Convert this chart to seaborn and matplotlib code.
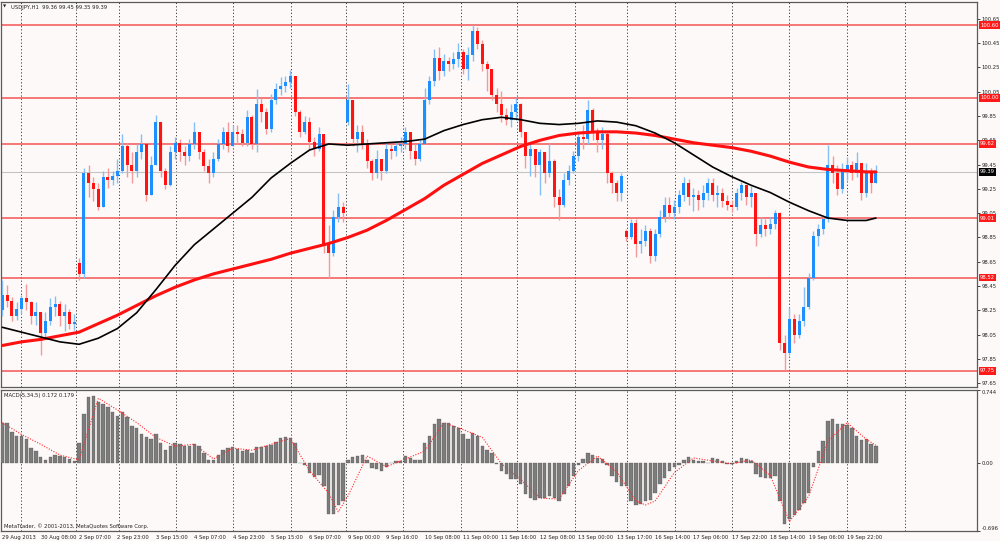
import matplotlib
matplotlib.use("Agg")
import matplotlib.pyplot as plt
import matplotlib.transforms as mtransforms
import seaborn as sns
import numpy as np

# 2-hour candles (open = previous close unless gapped)
closes = [
    98.38, 98.33, 98.20, 98.26, 98.35, 98.32, 98.20, 98.24, 98.06, 98.16, 98.28, 98.30, 98.20, 98.24, 98.14, 98.15,
    98.55, 99.38, 99.30, 99.25, 99.10, 99.35, 99.32, 99.36, 99.40, 99.60, 99.45, 99.40, 99.55, 99.62, 99.20, 99.45,
    99.80, 99.40, 99.28, 99.55, 99.63, 99.55, 99.52, 99.62, 99.72, 99.55, 99.44, 99.38, 99.50, 99.62, 99.72, 99.60,
    99.72, 99.70, 99.63, 99.84, 99.62, 99.95, 99.88, 99.74, 99.98, 100.07, 100.10, 100.13, 100.18, 99.88, 99.72, 99.80,
    99.64, 99.58, 99.70, 98.80, 98.72, 99.02, 99.10, 99.05, 99.98, 99.66, 99.72, 99.62, 99.48, 99.38, 99.50, 99.40,
    99.58, 99.56, 99.60, 99.62, 99.72, 99.56, 99.50, 99.62, 99.98, 100.14, 100.33, 100.22, 100.30, 100.28, 100.32, 100.38,
    100.24, 100.35, 100.55, 100.44, 100.28, 100.24, 100.02, 99.95, 99.86, 99.82, 99.88, 99.95, 99.72, 99.52, 99.58, 99.45,
    99.55, 99.38, 99.48, 99.18, 99.12, 99.32, 99.40, 99.52, 99.68, 99.66, 99.90, 99.72, 99.65, 99.70, 99.38, 99.30,
    99.22, 99.36, 98.85, 98.97, 98.80, 98.82, 98.90, 98.70, 98.88, 99.02, 99.12, 99.05, 99.10, 99.20, 99.30, 99.18,
    99.20, 99.16, 99.22, 99.30, 99.20, 99.22, 99.15, 99.12, 99.10, 99.22, 99.28, 99.18, 99.22, 98.88, 98.95, 98.92,
    98.96, 99.05, 97.98, 97.90, 98.18, 98.05, 98.16, 98.28, 98.52, 98.86, 98.92, 99.00, 99.45, 99.38, 99.25, 99.40,
    99.45, 99.38, 99.46, 99.22, 99.40, 99.30, 99.39,
]
highs = [
    98.50, 98.46, 98.36, 98.32, 98.38, 98.47, 98.33, 98.32, 98.22, 98.24, 98.35, 98.37, 98.33, 98.30, 98.26, 98.22,
    98.68, 99.42, 99.45, 99.35, 99.30, 99.40, 99.42, 99.40, 99.50, 99.70, 99.63, 99.55, 99.62, 99.70, 99.62, 99.52,
    99.86, 99.80, 99.42, 99.60, 99.68, 99.66, 99.60, 99.66, 99.80, 99.72, 99.58, 99.50, 99.55, 99.66, 99.76, 99.80,
    99.78, 99.78, 99.74, 99.90, 99.86, 100.07, 100.00, 99.92, 100.03, 100.12, 100.17, 100.18, 100.23, 100.18, 99.90, 99.85,
    99.84, 99.68, 99.76, 99.70, 98.95, 99.08, 99.22, 99.14, 100.11, 99.90, 99.78, 99.78, 99.66, 99.50, 99.57, 99.50,
    99.63, 99.62, 99.64, 99.68, 99.76, 99.72, 99.62, 99.65, 100.08, 100.18, 100.40, 100.42, 100.36, 100.34, 100.38, 100.45,
    100.40, 100.42, 100.60, 100.58, 100.48, 100.30, 100.20, 100.08, 100.06, 99.92, 99.95, 100.00, 99.96, 99.72, 99.62, 99.55,
    99.58, 99.54, 99.63, 99.50, 99.25, 99.38, 99.45, 99.56, 99.72, 99.78, 99.98, 99.92, 99.75, 99.76, 99.72, 99.40,
    99.32, 99.38, 98.92, 99.00, 99.00, 98.92, 98.95, 98.93, 98.92, 99.08, 99.18, 99.18, 99.16, 99.24, 99.35, 99.33,
    99.26, 99.24, 99.28, 99.34, 99.34, 99.28, 99.26, 99.20, 99.16, 99.26, 99.31, 99.28, 99.27, 99.20, 99.02, 99.00,
    99.02, 99.08, 99.06, 98.05, 98.28, 98.22, 98.22, 98.44, 98.56, 98.90, 98.96, 99.02, 99.61, 99.52, 99.45, 99.46,
    99.51, 99.48, 99.55, 99.46, 99.46, 99.42, 99.45,
]
lows = [
    98.20, 98.28, 98.16, 98.17, 98.22, 98.25, 98.14, 98.13, 97.88, 98.02, 98.13, 98.20, 98.12, 98.08, 98.10, 98.09,
    98.50, 98.52, 99.18, 99.15, 99.08, 99.10, 99.26, 99.28, 99.30, 99.38, 99.35, 99.30, 99.35, 99.50, 99.15, 99.22,
    99.45, 99.35, 99.25, 99.27, 99.50, 99.48, 99.45, 99.48, 99.58, 99.50, 99.40, 99.30, 99.35, 99.48, 99.58, 99.55,
    99.62, 99.62, 99.60, 99.60, 99.58, 99.55, 99.80, 99.70, 99.72, 99.95, 100.02, 100.05, 100.08, 99.85, 99.68, 99.70,
    99.58, 99.52, 99.56, 98.72, 98.52, 98.70, 98.98, 98.98, 99.78, 99.60, 99.55, 99.58, 99.42, 99.32, 99.34, 99.32,
    99.38, 99.50, 99.52, 99.55, 99.58, 99.50, 99.45, 99.48, 99.62, 99.95, 100.10, 100.15, 100.18, 100.22, 100.24, 100.25,
    100.20, 100.15, 100.30, 100.40, 100.22, 100.06, 99.98, 99.88, 99.80, 99.78, 99.76, 99.82, 99.68, 99.42, 99.36, 99.35,
    99.20, 99.30, 99.35, 99.10, 98.99, 99.10, 99.28, 99.38, 99.48, 99.58, 99.62, 99.65, 99.55, 99.58, 99.30, 99.22,
    99.15, 99.15, 98.82, 98.84, 98.69, 98.72, 98.78, 98.64, 98.66, 98.85, 98.98, 99.00, 99.00, 99.05, 99.15, 99.12,
    99.07, 99.08, 99.10, 99.16, 99.15, 99.10, 99.10, 99.08, 99.06, 99.08, 99.16, 99.12, 99.10, 98.78, 98.85, 98.86,
    98.88, 98.92, 97.92, 97.76, 97.88, 97.98, 98.02, 98.12, 98.26, 98.50, 98.78, 98.88, 98.98, 99.30, 99.20, 99.22,
    99.32, 99.32, 99.35, 99.16, 99.18, 99.22, 99.30,
]
gap_opens = {0: 98.25, 16: 98.64, 72: 99.80, 130: 98.90}

# moving averages, sampled every 4 bars
ma_idx = list(range(0, 181, 4)) + [182]
ma_black = [98.11, 98.07, 98.03, 97.99, 97.97, 98.02, 98.10, 98.23, 98.42, 98.62, 98.79, 98.92,
            99.05, 99.18, 99.34, 99.46, 99.57, 99.62, 99.61, 99.62, 99.63, 99.64, 99.66, 99.73,
            99.78, 99.82, 99.84, 99.82, 99.79, 99.78, 99.79, 99.81, 99.80, 99.77, 99.71, 99.63,
            99.53, 99.43, 99.35, 99.28, 99.22, 99.14, 99.07, 99.01, 98.99, 98.99, 99.01]
ma_red = [97.96, 97.99, 98.01, 98.04, 98.07, 98.14, 98.21, 98.29, 98.37, 98.44, 98.50, 98.55,
          98.59, 98.63, 98.67, 98.72, 98.76, 98.80, 98.85, 98.91, 98.99, 99.08, 99.17, 99.28,
          99.37, 99.46, 99.53, 99.60, 99.65, 99.69, 99.71, 99.72, 99.72, 99.71, 99.69, 99.66,
          99.63, 99.61, 99.59, 99.56, 99.52, 99.47, 99.43, 99.41, 99.40, 99.39, 99.39]

macd_hist = [
    0.41, 0.41, 0.31, 0.27, 0.27, 0.24, 0.15, 0.12, 0.06, 0.03, 0.06, 0.08, 0.07, 0.06, 0.04, 0.02,
    0.20, 0.50, 0.67, 0.68, 0.62, 0.60, 0.57, 0.52, 0.48, 0.52, 0.47, 0.38, 0.36, 0.29, 0.26, 0.24,
    0.29, 0.20, 0.13, 0.17, 0.20, 0.19, 0.17, 0.17, 0.19, 0.17, 0.10, 0.03, 0.03, 0.08, 0.13, 0.15,
    0.16, 0.14, 0.12, 0.13, 0.10, 0.16, 0.16, 0.17, 0.18, 0.21, 0.25, 0.26, 0.25, 0.20, 0.00, -0.02,
    -0.10, -0.14, -0.12, -0.24, -0.52, -0.52, -0.43, -0.39, 0.03, 0.06, 0.07, 0.08, 0.03, -0.05, -0.06, -0.08,
    -0.04, 0.00, 0.02, 0.02, 0.07, 0.05, 0.03, 0.03, 0.20, 0.27, 0.40, 0.45, 0.41, 0.41, 0.38, 0.36,
    0.29, 0.24, 0.30, 0.27, 0.17, 0.13, 0.10, -0.01, -0.08, -0.11, -0.17, -0.16, -0.22, -0.32, -0.36, -0.38,
    -0.36, -0.36, -0.34, -0.36, -0.39, -0.32, -0.24, -0.13, -0.02, 0.04, 0.10, 0.08, 0.05, 0.04, -0.02, -0.13,
    -0.20, -0.24, -0.24, -0.39, -0.43, -0.42, -0.39, -0.38, -0.31, -0.22, -0.15, -0.08, -0.04, -0.02, 0.03, 0.06,
    0.03, 0.02, 0.02, 0.00, 0.05, 0.04, 0.02, -0.01, -0.01, 0.02, 0.05, 0.04, 0.02, -0.11, -0.14, -0.15,
    -0.15, -0.13, -0.39, -0.62, -0.57, -0.53, -0.48, -0.41, -0.31, -0.04, 0.12, 0.22, 0.43, 0.45, 0.40, 0.40,
    0.39, 0.36, 0.27, 0.23, 0.24, 0.19, 0.172,
]
sig_idx = [0, 4, 8, 12, 16, 20, 24, 28, 32, 36, 40, 44, 48, 52, 56, 60, 64, 68, 70, 72, 76, 80, 84,
           88, 92, 96, 100, 104, 108, 112, 116, 120, 124, 128, 132, 134, 136, 140, 144, 148, 152,
           156, 160, 164, 168, 172, 176, 180, 182]
macd_signal = [0.41, 0.29, 0.19, 0.08, 0.03, 0.66, 0.54, 0.41, 0.26, 0.17, 0.19, 0.04, 0.15, 0.13,
               0.19, 0.25, -0.08, -0.31, -0.50, -0.34, 0.07, -0.04, 0.04, 0.12, 0.41, 0.34, 0.26,
               -0.01, -0.17, -0.36, -0.37, -0.08, 0.07, -0.09, -0.39, -0.43, -0.39, -0.10, 0.05,
               0.02, -0.01, 0.03, -0.13, -0.60, -0.34, 0.22, 0.41, 0.24, 0.179]

levels = [100.60, 100.00, 99.62, 99.01, 98.52, 97.75]
last_price = 99.39
price_ticks = [97.65, 97.85, 98.05, 98.25, 98.45, 98.65, 98.85, 99.05, 99.25, 99.45,
               99.65, 99.85, 100.05, 100.25, 100.45, 100.65]

date_labels = ["29 Aug 2013", "30 Aug 08:00", "2 Sep 07:00", "2 Sep 23:00", "3 Sep 15:00",
               "4 Sep 07:00", "4 Sep 23:00", "5 Sep 15:00", "6 Sep 07:00", "9 Sep 00:00",
               "9 Sep 16:00", "10 Sep 08:00", "11 Sep 00:00", "11 Sep 16:00", "12 Sep 08:00",
               "13 Sep 00:00", "13 Sep 17:00", "16 Sep 14:00", "17 Sep 06:00", "17 Sep 22:00",
               "18 Sep 14:00", "19 Sep 06:00", "19 Sep 22:00"]
# day separators, in bar units
day_breaks = [3.9, 15.35, 24.3, 36.2, 48.1, 60.1, 71.6, 83.5, 95.6, 107.2, 119.3, 130.1,
              140.1, 152.0, 163.9, 176.0, 188.1]

sns.set_style("white")
plt.rcParams['font.family'] = ['DejaVu Sans']

BG = '#fdf9f8'
FS = 3.8
W, H = 1000, 541


def box(x0, y0, x1, y1):
    return [x0 / W, 1 - y1 / H, (x1 - x0) / W, (y1 - y0) / H]


fig = plt.figure(figsize=(10, 5.41), dpi=100, facecolor=BG)
ax = fig.add_axes(box(1, 2, 977, 387), facecolor=BG)
axm = fig.add_axes(box(1, 390, 977, 531), facecolor=BG, sharex=ax)

x = np.arange(len(closes))
c = np.array(closes)
o = np.array([gap_opens.get(i, closes[i - 1] if i else closes[0]) for i in range(len(closes))])
h = np.maximum(np.array(highs), np.maximum(o, c))
l = np.minimum(np.array(lows), np.minimum(o, c))
up = c >= o

for d in day_breaks:
    for a in (ax, axm):
        a.axvline(d, color='#3c3c3c', lw=0.7, ls=(0, (1.2, 2.2)), zorder=1)

for lv in levels:
    ax.axhline(lv, color='#f24a4a', lw=1.3, alpha=0.8, zorder=2)
ax.axhline(last_price, color='#c4c4c4', lw=0.8, zorder=2)

# candles
ax.vlines(x, l, h, colors=np.where(up, '#86bff5', '#f59a9a'), lw=1.0, zorder=3)
body = c - o
body = np.where(np.abs(body) < 0.012, np.where(up, 0.012, -0.012), body)
ax.bar(x, body, bottom=o, width=0.6, color=np.where(up, '#1e8fff', '#ff1414'), lw=0, zorder=4)

sns.lineplot(x=ma_idx, y=ma_red, ax=ax, color='#ff1010', lw=2.2, zorder=5)
sns.lineplot(x=ma_idx, y=ma_black, ax=ax, color='black', lw=1.2, zorder=6)

ax.set_xlim((1 - 2.3) / 4.8, (977 - 2.3) / 4.8)
ax.set_ylim(100.60 - (387 - 25) / 121.4, 100.60 + (25 - 2) / 121.4)
ax.set_xlabel('')
ax.set_ylabel('')
ax.yaxis.tick_right()
ax.set_yticks(price_ticks)
ax.set_yticklabels([f'{t:.2f}' for t in price_ticks])
ax.tick_params(axis='y', labelsize=FS, length=2, width=0.6, pad=1.5, colors='#222222')
ax.tick_params(axis='x', bottom=False, labelbottom=False)

trans = mtransforms.blended_transform_factory(ax.transAxes, ax.transData)
for lv in levels:
    ax.text(1.003, lv, f'{lv:.2f}', transform=trans, fontsize=FS, color='white', va='center',
            ha='left', bbox=dict(boxstyle='square,pad=0.25', fc='#ff1a1a', ec='none'), zorder=10)
ax.text(1.003, last_price, f'{last_price:.2f}', transform=trans, fontsize=FS, color='white',
        va='center', ha='left', bbox=dict(boxstyle='square,pad=0.25', fc='black', ec='none'), zorder=10)

# MACD panel
axm.bar(x, macd_hist, width=0.7, color='#7c7c7c', edgecolor='#4a4a4a', lw=0.2, zorder=3)
sns.lineplot(x=sig_idx, y=macd_signal, ax=axm, color='#ff2a2a', lw=0.8, ls=(0, (1, 1.4)), zorder=4)
axm.set_ylim(-0.696, 0.744)
axm.set_xlabel('')
axm.set_ylabel('')
axm.yaxis.tick_right()
axm.set_yticks([0.744, 0.0, -0.696])
axm.set_yticklabels(['0.744', '0.00', '-0.696'])
axm.tick_params(axis='y', labelsize=FS, length=2, width=0.6, pad=1.5, colors='#222222')
ylabs = axm.get_yticklabels()
ylabs[0].set_va('top')
ylabs[2].set_va('bottom')

axm.set_xticks(list(range(0, 177, 8)))
axm.set_xticklabels(date_labels)
axm.tick_params(axis='x', labelsize=FS, length=2.5, width=0.6, pad=0.5, colors='#222222')
for t in axm.get_xticklabels():
    t.set_ha('left')

for a in (ax, axm):
    for s in a.spines.values():
        s.set_color('#5a5a5a')
        s.set_linewidth(0.9)

fig.text(3 / W, 1 - 7 / H, '▼', fontsize=3, color='#222222', va='center')
fig.text(11 / W, 1 - 7 / H, 'USDJPY,H1  99.36 99.45 99.35 99.39', fontsize=FS, color='#222222', va='center')
fig.text(4 / W, 1 - 396 / H, 'MACD(5,34,5) 0.172 0.179', fontsize=FS, color='#222222', va='center')
fig.text(4 / W, 1 - 526 / H, 'MetaTrader, © 2001-2013, MetaQuotes Software Corp.', fontsize=FS,
         color='#222222', va='center')

fig.savefig('out.png', dpi=100, facecolor=BG)
